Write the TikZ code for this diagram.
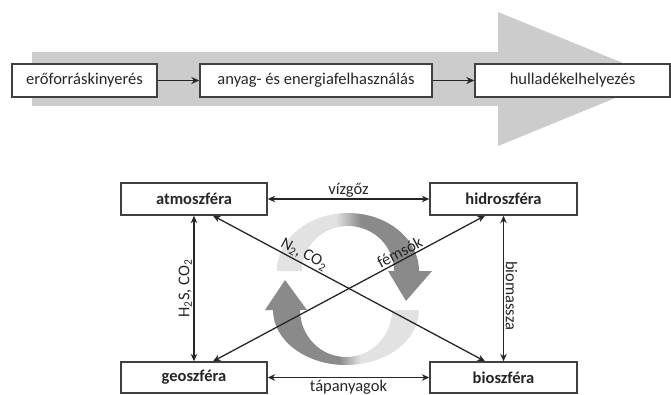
\documentclass[tikz,border=0pt]{standalone}
\usepackage{fontspec}
\setmainfont{Carlito}
\usetikzlibrary{arrows.meta}
\definecolor{cyclight}{HTML}{E2E2E2}
\definecolor{cycdark}{HTML}{8A8A8A}
\definecolor{bigarrow}{HTML}{CCCCCC}
\pgfdeclarehorizontalshading{cycLR}{100bp}{color(0bp)=(cyclight); color(44bp)=(cyclight); color(52bp)=(cycdark); color(100bp)=(cycdark)}
\pgfdeclarehorizontalshading{cycRL}{100bp}{color(0bp)=(cycdark); color(49bp)=(cycdark); color(56bp)=(cyclight); color(100bp)=(cyclight)}
\tikzset{
  every node/.style={font=\fontsize{16.5}{19}\selectfont, text=black!85},
  box/.style={draw=black!75, line width=1.4pt, fill=white, inner sep=0pt, minimum height=33pt},
  sbox/.style={box, font=\fontsize{16.5}{19}\selectfont\bfseries},
  conn/.style={draw=black!85, line width=1.6pt, -{Stealth[length=8pt,width=7pt]}},
  conn2/.style={draw=black!85, line width=1.3pt, {Stealth[length=7.5pt,width=6.5pt]}-{Stealth[length=7.5pt,width=6.5pt]}},
  lbl/.style={inner sep=1.5pt}
}
\begin{document}
\begin{tikzpicture}[x=1pt,y=1pt]
\useasboundingbox (0,0) rectangle (671,394);
\clip (0,0) rectangle (671,394);
% big gray process arrow
\fill[bigarrow] (32,288) -- (32,342) -- (498,342) -- (498,382) -- (662,315) -- (498,248) -- (498,288) -- cycle;
% top boxes
\node[box, minimum width=145pt] (b1) at (84.5,313.5) {erőforráskinyerés};
\node[box, minimum width=232pt] (b2) at (316,313.5) {anyag- és energiafelhasználás};
\node[box, minimum width=195pt] (b3) at (572.5,313.5) {hulladékelhelyezés};
\draw[conn] (b1) -- (b2);
\draw[conn] (b2) -- (b3);
% cycle arrows
\shade[shading=cycLR] (277,123) arc[start angle=180, end angle=0, x radius=71pt, y radius=58pt] -- (432,123) -- (406,93) -- (388,123) -- (394,123) arc[start angle=0, end angle=180, x radius=46pt, y radius=45pt] -- cycle;
\shade[shading=cycRL] (419,84) arc[start angle=0, end angle=-180, x radius=73pt, y radius=55pt] -- (265,84) -- (285,114) -- (307,84) -- (300,84) arc[start angle=180, end angle=360, x radius=46pt, y radius=47pt] -- cycle;
% spheres
\node[sbox, minimum width=146pt, minimum height=32pt] (atmos) at (194,195) {atmoszféra};
\node[sbox, minimum width=147pt, minimum height=32pt] (hidro) at (503.5,195) {hidroszféra};
\node[sbox, minimum width=146pt, minimum height=31pt] (geos) at (194,16.5) {geoszféra};
\node[sbox, minimum width=147pt, minimum height=31pt] (bios) at (503.5,16.5) {bioszféra};
% connectors
\draw[conn2] (atmos) -- (hidro) node[lbl, midway, above] {vízgőz};
\draw[conn2] (geos) -- (bios) node[lbl, midway, below] {tápanyagok};
\draw[conn2] (geos) -- (atmos) node[lbl, midway, above, sloped] {H\textsubscript{2}S, CO\textsubscript{2}};
\draw[conn2] (hidro) -- (bios) node[lbl, pos=0.55, above, sloped] {biomassza};
\draw[conn2] ([xshift=19pt]atmos.south) -- ([xshift=-18.5pt]bios.north) node[lbl, pos=0.32, above, sloped] {N\textsubscript{2}, CO\textsubscript{2}};
\draw[conn2] ([xshift=19pt]geos.north) -- ([xshift=-18.5pt]hidro.south) node[lbl, pos=0.7, above, sloped] {fémsók};
\end{tikzpicture}
\end{document}
